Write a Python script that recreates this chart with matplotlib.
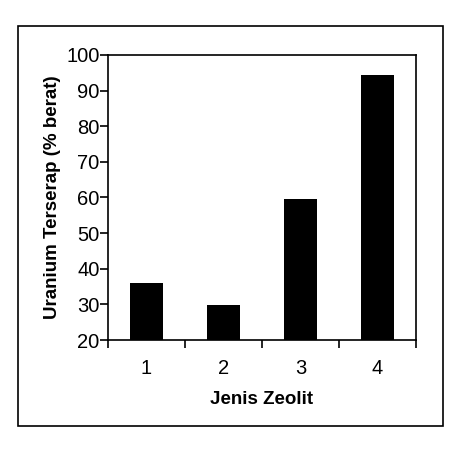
import matplotlib
matplotlib.use("Agg")
import matplotlib.pyplot as plt
from matplotlib.patches import Rectangle

categories = ["1", "2", "3", "4"]
values = [36.0, 29.8, 59.6, 94.4]
yticks = [20, 30, 40, 50, 60, 70, 80, 90, 100]

plt.rcParams['font.family'] = ['Liberation Sans', 'DejaVu Sans']

W, H = 464, 449
fig = plt.figure(figsize=(W/100, H/100), dpi=100)
ax = fig.add_axes([108/W, 1-340/H, (416-108)/W, (340-55)/H])

x = list(range(1, len(categories)+1))
ax.bar(x, [v - 20 for v in values], bottom=20, width=0.42, color='black')
ax.set_xlim(0.5, len(categories)+0.5)
ax.set_ylim(20, 100)
ax.set_yticks(yticks)
ax.set_yticklabels([str(t) for t in yticks], fontsize=14.5)
ax.set_xticks([i + 0.5 for i in range(len(categories)+1)])
ax.set_xticklabels([])
ax.set_xticks(x, minor=True)
ax.set_xticklabels(categories, minor=True, fontsize=14.5)
ax.tick_params(axis='x', which='minor', length=0, pad=14)
ax.tick_params(axis='both', which='major', direction='out', length=6, width=1.2)
ax.tick_params(axis='y', pad=0)
for s in ax.spines.values():
    s.set_linewidth(1.2)
ax.set_xlabel("Jenis Zeolit", fontsize=13.5, fontweight='bold', labelpad=9)
ax.set_ylabel("Uranium Terserap (% berat)", fontsize=13.5, fontweight='bold', labelpad=4)

fig.patches.append(Rectangle((18/W, 1-426/H), (443-18)/W, (426-26)/H,
                             transform=fig.transFigure, fill=False,
                             edgecolor='black', linewidth=1.2))
fig.savefig("out.png", dpi=100)
